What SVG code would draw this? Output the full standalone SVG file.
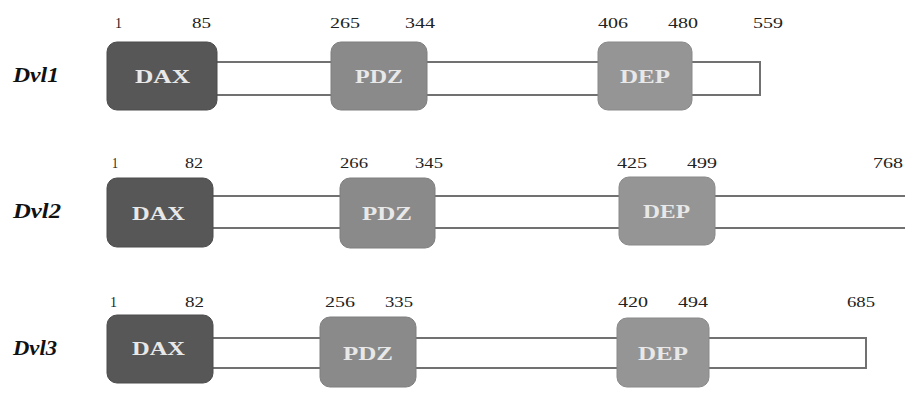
<svg xmlns="http://www.w3.org/2000/svg" width="905" height="394" viewBox="0 0 905 394">
<style>
.bar{fill:#fff;stroke:#717171;stroke-width:2}
.dax{fill:#575757;stroke:#4c4c4c;stroke-width:1}
.pdz{fill:#8a8a8a;stroke:#7f7f7f;stroke-width:1}
.dep{fill:#959595;stroke:#898989;stroke-width:1}
.dl{font-family:"Liberation Serif","Times New Roman",serif;font-weight:bold;font-size:19px;fill:#e8e8e8}
.num{font-family:"Liberation Serif","Times New Roman",serif;font-size:14px;fill:#222}
.nm{font-family:"Liberation Serif","Times New Roman",serif;font-weight:bold;font-style:italic;font-size:21px;fill:#111}
</style>
<rect width="905" height="394" fill="#fff"/>
<g id="connectors">
<rect class="bar" x="200" y="62" width="560" height="33"/>
<rect class="bar" x="200" y="196" width="715" height="32"/>
<rect class="bar" x="200" y="338" width="666" height="30"/>
</g>
<g id="dvl1">
<text class="nm" x="13" y="82" textLength="46" lengthAdjust="spacingAndGlyphs">Dvl1</text>
<rect class="dax" x="107" y="42" width="110" height="68" rx="10"/>
<text class="dl" x="135" y="83" textLength="55" lengthAdjust="spacingAndGlyphs">DAX</text>
<rect class="pdz" x="331" y="42" width="96" height="68" rx="10"/>
<text class="dl" x="355" y="83" textLength="48" lengthAdjust="spacingAndGlyphs">PDZ</text>
<rect class="dep" x="598" y="42" width="94" height="68" rx="10"/>
<text class="dl" x="620" y="83" textLength="50" lengthAdjust="spacingAndGlyphs">DEP</text>
<text class="num" x="115" y="28" textLength="7" lengthAdjust="spacingAndGlyphs">1</text>
<text class="num" x="192" y="28" textLength="19" lengthAdjust="spacingAndGlyphs">85</text>
<text class="num" x="330" y="28" textLength="30" lengthAdjust="spacingAndGlyphs">265</text>
<text class="num" x="405" y="28" textLength="30" lengthAdjust="spacingAndGlyphs">344</text>
<text class="num" x="598" y="28" textLength="30" lengthAdjust="spacingAndGlyphs">406</text>
<text class="num" x="668" y="28" textLength="30" lengthAdjust="spacingAndGlyphs">480</text>
<text class="num" x="753" y="28" textLength="30" lengthAdjust="spacingAndGlyphs">559</text>
</g>
<g id="dvl2">
<text class="nm" x="13" y="218" textLength="48" lengthAdjust="spacingAndGlyphs">Dvl2</text>
<rect class="dax" x="107" y="178" width="106" height="69" rx="10"/>
<text class="dl" x="132" y="220" textLength="53" lengthAdjust="spacingAndGlyphs">DAX</text>
<rect class="pdz" x="340" y="178" width="95" height="70" rx="10"/>
<text class="dl" x="362" y="220" textLength="50" lengthAdjust="spacingAndGlyphs">PDZ</text>
<rect class="dep" x="619" y="177" width="96" height="68" rx="10"/>
<text class="dl" x="643" y="218" textLength="47" lengthAdjust="spacingAndGlyphs">DEP</text>
<text class="num" x="112" y="168" textLength="6" lengthAdjust="spacingAndGlyphs">1</text>
<text class="num" x="185" y="168" textLength="18" lengthAdjust="spacingAndGlyphs">82</text>
<text class="num" x="340" y="168" textLength="28" lengthAdjust="spacingAndGlyphs">266</text>
<text class="num" x="415" y="168" textLength="28" lengthAdjust="spacingAndGlyphs">345</text>
<text class="num" x="617" y="168" textLength="30" lengthAdjust="spacingAndGlyphs">425</text>
<text class="num" x="687" y="168" textLength="30" lengthAdjust="spacingAndGlyphs">499</text>
<text class="num" x="873" y="168" textLength="30" lengthAdjust="spacingAndGlyphs">768</text>
</g>
<g id="dvl3">
<text class="nm" x="13" y="355" textLength="44" lengthAdjust="spacingAndGlyphs">Dvl3</text>
<rect class="dax" x="107" y="315" width="106" height="68" rx="10"/>
<text class="dl" x="132" y="355" textLength="53" lengthAdjust="spacingAndGlyphs">DAX</text>
<rect class="pdz" x="320" y="317" width="96" height="70" rx="10"/>
<text class="dl" x="343" y="360" textLength="50" lengthAdjust="spacingAndGlyphs">PDZ</text>
<rect class="dep" x="617" y="318" width="92" height="69" rx="10"/>
<text class="dl" x="638" y="360" textLength="50" lengthAdjust="spacingAndGlyphs">DEP</text>
<text class="num" x="110" y="307" textLength="7" lengthAdjust="spacingAndGlyphs">1</text>
<text class="num" x="185" y="307" textLength="19" lengthAdjust="spacingAndGlyphs">82</text>
<text class="num" x="325" y="307" textLength="30" lengthAdjust="spacingAndGlyphs">256</text>
<text class="num" x="385" y="307" textLength="28" lengthAdjust="spacingAndGlyphs">335</text>
<text class="num" x="618" y="307" textLength="30" lengthAdjust="spacingAndGlyphs">420</text>
<text class="num" x="678" y="307" textLength="30" lengthAdjust="spacingAndGlyphs">494</text>
<text class="num" x="847" y="307" textLength="28" lengthAdjust="spacingAndGlyphs">685</text>
</g>
</svg>
